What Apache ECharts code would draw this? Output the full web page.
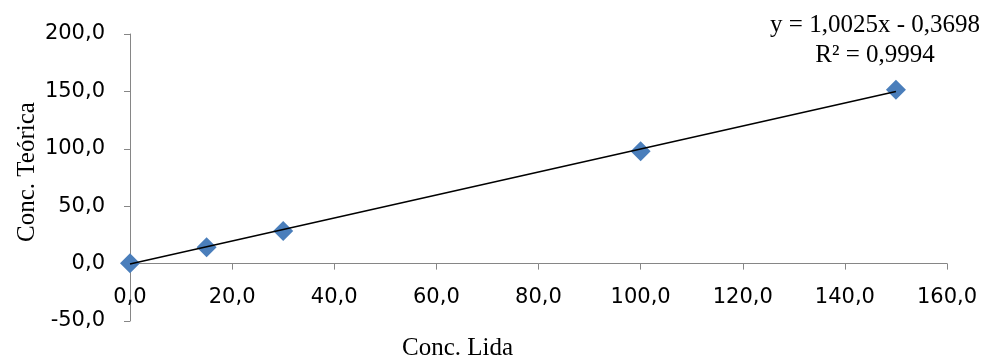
<!DOCTYPE html>
<html>
<head>
<meta charset="utf-8">
<script src="https://cdn.jsdelivr.net/npm/echarts@6/dist/echarts.min.js"></script>
<style>
  html, body { margin: 0; padding: 0; background: #fff; }
</style>
</head>
<body>
<div id="calibChart" style="width:984px;height:360px;"></div>
<script>
// pontos (Conc. Lida, Conc. Teorica)
var concLida = [0, 15, 30, 100, 150];
var concTeorica = [0.3, 14.2, 28.5, 97.8, 151.5];
// linha de tendencia (extremos)
var trendX = [0, 150];
var trendY = [-0.4, 150.0];
var eqText = "y = 1,0025x - 0,3698\nR² = 0,9994";

var points = [];
for (var i = 0; i < concLida.length; i++) {
  points.push([concLida[i], concTeorica[i]]);
}
var trend = [];
for (var j = 0; j < trendX.length; j++) {
  trend.push([trendX[j], trendY[j]]);
}

function fmt(v) {
  return v.toFixed(1).replace(".", ",");
}

var myChart = echarts.init(document.getElementById("calibChart"));
var sansFont = "DejaVu Sans";
var serifFont = "Liberation Serif";
var option = {
  animation: false,
  grid: {
    left: 130,
    right: 37,
    top: 34,
    bottom: 39,
    containLabel: false,
    outerBoundsMode: "none"
  },
  xAxis: {
    type: "value",
    min: 0,
    max: 160,
    interval: 20,
    axisLine: { show: true, onZero: true, lineStyle: { color: "#868686", width: 1 } },
    axisTick: { show: true, length: 6, lineStyle: { color: "#868686" } },
    splitLine: { show: false },
    axisLabel: {
      margin: -34,
      color: "#000",
      fontFamily: sansFont,
      fontSize: 21,
      formatter: fmt
    }
  },
  yAxis: {
    type: "value",
    min: -50,
    max: 200,
    interval: 50,
    axisLine: { show: true, onZero: false, lineStyle: { color: "#868686", width: 1 } },
    axisTick: { show: true, length: 6, lineStyle: { color: "#868686" } },
    splitLine: { show: false },
    axisLabel: {
      margin: 25,
      color: "#000",
      fontFamily: sansFont,
      fontSize: 21,
      formatter: fmt
    }
  },
  graphic: [
    {
      type: "text",
      left: 402,
      top: 336,
      style: { text: "Conc. Lida", fill: "#000", font: "25px " + serifFont }
    },
    {
      type: "text",
      x: 27,
      y: 172,
      rotation: Math.PI / 2,
      style: {
        text: "Conc. Teórica",
        fill: "#000",
        font: "25px " + serifFont,
        align: "center",
        verticalAlign: "middle"
      }
    },
    {
      type: "text",
      x: 875,
      y: 10,
      style: {
        text: eqText,
        fill: "#000",
        font: "25px " + serifFont,
        align: "center",
        lineHeight: 30
      }
    }
  ],
  series: [
    {
      type: "line",
      data: trend,
      symbol: "none",
      lineStyle: { color: "#000", width: 1.5 },
      z: 3
    },
    {
      type: "scatter",
      data: points,
      symbol: "diamond",
      symbolSize: [20, 20],
      itemStyle: { color: "#4a7ebb", opacity: 1 },
      z: 2
    }
  ]
};
myChart.setOption(option);
</script>
</body>
</html>
